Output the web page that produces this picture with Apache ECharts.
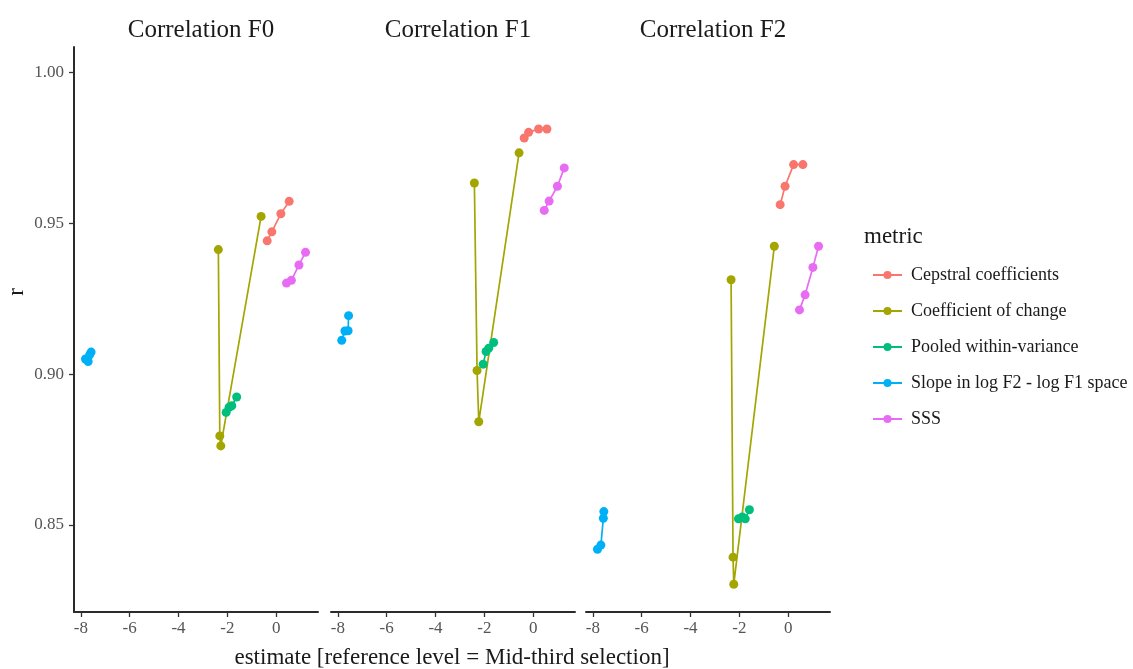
<!DOCTYPE html>
<html>
<head>
<meta charset="utf-8">
<script src="https://cdn.jsdelivr.net/npm/echarts@6/dist/echarts.min.js"></script>
<style>
html,body{margin:0;padding:0;background:#fff;}
#chart{width:1133px;height:669px;}
</style>
</head>
<body>
<div id="chart"></div>
<script>
// ---- data ----
const panels = ['Correlation F0', 'Correlation F1', 'Correlation F2'];
const metrics = ['Cepstral coefficients', 'Coefficient of change', 'Pooled within-variance', 'Slope in log F2 - log F1 space', 'SSS'];
const colors = ['#F8766D', '#A3A500', '#00BF7D', '#00B0F6', '#E76BF3'];
const xTicks = [-8, -6, -4, -2, 0];
const yTicks = [0.85, 0.90, 0.95, 1.00];

// estimate values, one inner array per panel (F0, F1, F2)
const cepstralX = [[-0.37, -0.18, 0.19, 0.53], [-0.37, -0.19, 0.22, 0.56], [-0.33, -0.13, 0.22, 0.60]];
const cepstralR = [[0.9442, 0.9472, 0.9532, 0.9573], [0.9783, 0.9802, 0.9813, 0.9813], [0.9562, 0.9623, 0.9695, 0.9695]];
const changeX = [[-2.37, -2.31, -2.27, -0.62], [-2.41, -2.30, -2.23, -0.58], [-2.34, -2.26, -2.23, -0.57]];
const changeR = [[0.9413, 0.8795, 0.8762, 0.9523], [0.9634, 0.9012, 0.8842, 0.9734], [0.9313, 0.8393, 0.8303, 0.9424]];
const pooledX = [[-2.05, -1.93, -1.82, -1.62], [-2.05, -1.93, -1.82, -1.62], [-2.04, -1.88, -1.76, -1.59]];
const pooledR = [[0.8873, 0.8890, 0.8895, 0.8924], [0.9033, 0.9075, 0.9086, 0.9105], [0.8520, 0.8526, 0.8520, 0.8550]];
const slopeX = [[-7.81, -7.70, -7.64, -7.58], [-7.84, -7.71, -7.58, -7.56], [-7.81, -7.67, -7.57, -7.55]];
const slopeR = [[0.9050, 0.9042, 0.9064, 0.9073], [0.9112, 0.9143, 0.9144, 0.9194], [0.8419, 0.8433, 0.8522, 0.8544]];
const sssX = [[0.42, 0.62, 0.93, 1.20], [0.45, 0.65, 0.99, 1.27], [0.46, 0.69, 1.01, 1.24]];
const sssR = [[0.9302, 0.9311, 0.9362, 0.9404], [0.9543, 0.9574, 0.9623, 0.9684], [0.9213, 0.9263, 0.9354, 0.9424]];

const allX = [cepstralX, changeX, pooledX, slopeX, sssX];
const allR = [cepstralR, changeR, pooledR, slopeR, sssR];

// ---- layout ----
const FONT = '"Liberation Serif", "DejaVu Serif", serif';
const gridLefts = [74, 331, 586];
const gridW = 244;
const gridTop = 47;
const gridH = 565;
const xMin = -8.28, xMax = 1.71;
const yMin = 0.8211, yMax = 1.0085;

const grids = [], xAxes = [], yAxes = [], titles = [], series = [];
panels.forEach((p, i) => {
  grids.push({left: gridLefts[i], top: gridTop, width: gridW, height: gridH});
  xAxes.push({
    type: 'value', gridIndex: i, min: xMin, max: xMax,
    splitLine: {show: false},
    axisLine: {show: true, onZero: false, lineStyle: {color: '#2b2b2b', width: 2}},
    axisTick: {show: true, length: 5, lineStyle: {color: '#333', width: 1.3}, customValues: xTicks},
    axisLabel: {color: '#555', fontFamily: FONT, fontSize: 17, margin: 8, customValues: xTicks,
      formatter: v => String(v)}
  });
  yAxes.push({
    type: 'value', gridIndex: i, min: yMin, max: yMax, show: i === 0,
    splitLine: {show: false},
    axisLine: {show: true, onZero: false, lineStyle: {color: '#2b2b2b', width: 2}},
    axisTick: {show: true, length: 5, lineStyle: {color: '#333', width: 1.3}, customValues: yTicks},
    axisLabel: {color: '#555', fontFamily: FONT, fontSize: 17, margin: 10, customValues: yTicks,
      formatter: v => v.toFixed(2)}
  });
  titles.push({
    text: p, left: gridLefts[i] + gridW / 2, top: 13, textAlign: 'center',
    textStyle: {fontFamily: FONT, fontSize: 25, fontWeight: 'normal', color: '#1a1a1a'}
  });
  metrics.forEach((m, k) => {
    const xs = allX[k][i], rs = allR[k][i];
    series.push({
      type: 'line', name: m, xAxisIndex: i, yAxisIndex: i,
      data: xs.map((x, j) => [x, rs[j]]),
      symbol: 'circle', symbolSize: 9, showSymbol: true,
      itemStyle: {color: colors[k]},
      lineStyle: {color: colors[k], width: 1.7},
      z: 2 + k, silent: true, animation: false
    });
  });
});

const chart = echarts.init(document.getElementById('chart'), null, {renderer: 'canvas'});
chart.setOption({
  animation: false,
  backgroundColor: '#ffffff',
  title: titles,
  grid: grids,
  xAxis: xAxes,
  yAxis: yAxes,
  legend: {
    data: metrics, orient: 'vertical', left: 867, top: 261,
    itemWidth: 29, itemHeight: 10, itemGap: 18,
    selectedMode: false,
    textStyle: {fontFamily: FONT, fontSize: 18, color: '#1a1a1a', padding: [0, 0, 0, 4]}
  },
  graphic: [
    {type: 'text', left: 864, top: 225, style: {text: 'metric', font: '23px ' + FONT, fill: '#1a1a1a'}},
    {type: 'text', x: 452, y: 658, style: {text: 'estimate [reference level = Mid-third selection]', font: '23px ' + FONT, fill: '#1a1a1a', textAlign: 'center', textVerticalAlign: 'middle'}},
    {type: 'text', x: 17, y: 292, rotation: Math.PI / 2, style: {text: 'r', font: '23px ' + FONT, fill: '#1a1a1a', textAlign: 'center', textVerticalAlign: 'middle'}}
  ],
  series: series
});
</script>
</body>
</html>
